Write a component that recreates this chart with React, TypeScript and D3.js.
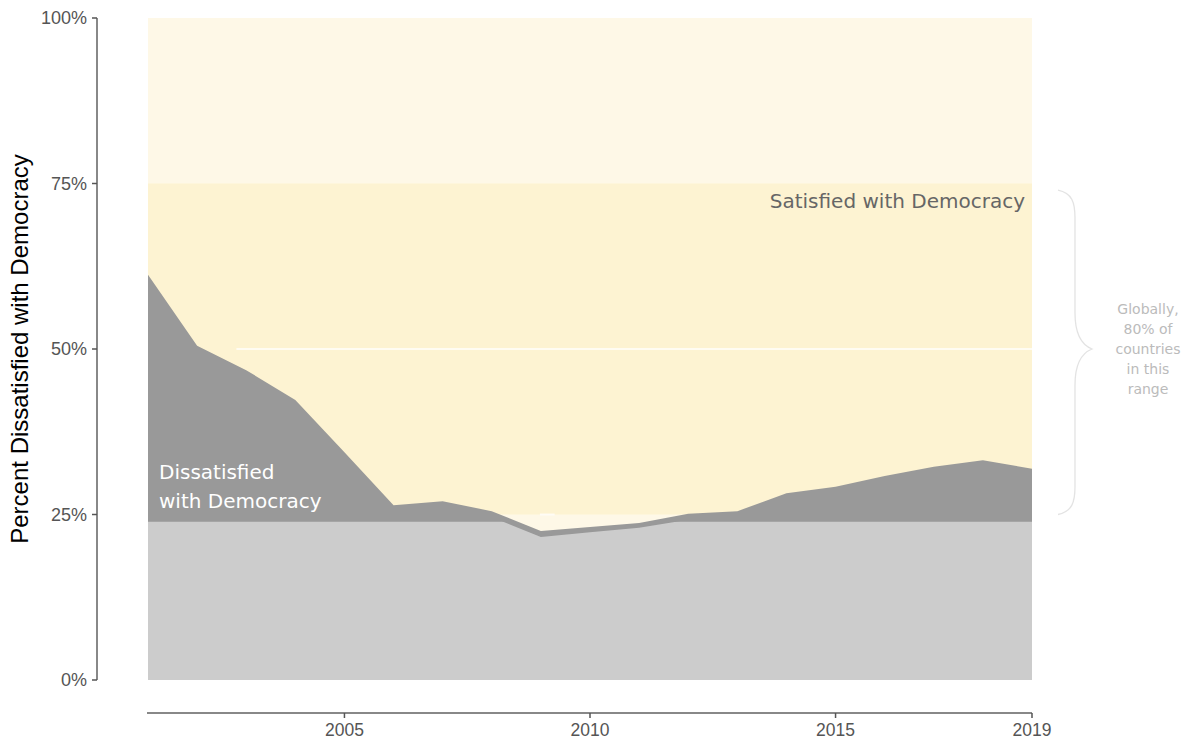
import React from 'react'
import * as d3 from 'd3'

// Dissatisfied share (fraction of countries' citizens)
const years = [2001, 2002, 2003, 2004, 2005, 2006, 2007, 2008, 2009, 2010, 2011, 2012, 2013, 2014, 2015, 2016, 2017, 2018, 2019]
const dissatisfied = [61.2, 50.5, 46.8, 42.3, 34.4, 26.4, 27.0, 25.5, 22.5, 23.1, 23.7, 25.1, 25.5, 28.2, 29.2, 30.8, 32.2, 33.2, 31.9]
const lowerBand = [60.3, 49.6, 45.9, 41.4, 33.5, 25.5, 26.1, 24.6, 21.6, 22.3, 23.0, 24.2, 24.6, 27.3, 28.3, 29.9, 31.3, 32.3, 31.0]
const lowerCap = 23.9

const yTicks = [0, 25, 50, 75, 100]
const xTicks = [2005, 2010, 2015, 2019]
const noteLines = ['Globally,', '80% of', 'countries', 'in this', 'range']

const WIDTH = 1184
const HEIGHT = 740

export default function App() {
  const x = d3.scaleLinear().domain([2001, 2019]).range([148, 1032])
  const y = d3.scaleLinear().domain([0, 100]).range([680, 18])

  const rows = years.map((yr, i) => ({ yr, v: dissatisfied[i], lo: lowerBand[i] }))

  const darkArea = d3
    .area<{ yr: number; v: number; lo: number }>()
    .x((d) => x(d.yr))
    .y0(y(0))
    .y1((d) => y(d.v))(rows) as string

  const lightArea = d3
    .area<{ yr: number; v: number; lo: number }>()
    .x((d) => x(d.yr))
    .y0(y(0))
    .y1((d) => y(d.lo))(rows) as string

  // curly brace spanning 25%..75%
  const bx = 1058
  const top = y(74)
  const bot = y(25)
  const mid = y(50)
  const brace = [
    `M${bx},${top}`,
    `C${bx + 14},${top + 3} ${bx + 17},${top + 12} ${bx + 17},${top + 28}`,
    `L${bx + 17},${mid - 36}`,
    `C${bx + 17},${mid - 14} ${bx + 24},${mid - 4} ${bx + 34},${mid}`,
    `C${bx + 24},${mid + 4} ${bx + 17},${mid + 14} ${bx + 17},${mid + 36}`,
    `L${bx + 17},${bot - 28}`,
    `C${bx + 17},${bot - 12} ${bx + 14},${bot - 3} ${bx},${bot}`,
  ].join(' ')

  const axisFont = '"Liberation Sans", Arial, sans-serif'
  const noteFont = '"DejaVu Sans", sans-serif'

  return (
    <svg width={WIDTH} height={HEIGHT} style={{ position: 'absolute', left: 0, top: 0 }}>
      <defs>
        <clipPath id="lowcap">
          <rect x={x(2001)} y={y(lowerCap)} width={x(2019) - x(2001)} height={y(0) - y(lowerCap)} />
        </clipPath>
      </defs>

      {/* background bands */}
      <rect x={x(2001)} y={y(100)} width={x(2019) - x(2001)} height={y(0) - y(100)} fill="#fef8e7" />
      <rect x={x(2001)} y={y(75)} width={x(2019) - x(2001)} height={y(25) - y(75)} fill="#fdf3d2" />

      {/* reference lines */}
      <line x1={x(2002.8)} x2={x(2019)} y1={y(50)} y2={y(50)} stroke="#ffffff" strokeOpacity={0.7} strokeWidth={2} />
      <line x1={x(2008.98)} x2={x(2009.28)} y1={y(25)} y2={y(25)} stroke="#ffffff" strokeOpacity={0.7} strokeWidth={2} />

      <path d={darkArea} fill="#999999" />
      <path d={lightArea} fill="#cccccc" clipPath="url(#lowcap)" />

      <text x={1025} y={208} textAnchor="end" fontFamily={noteFont} fontSize={20} fill="#666666">
        Satisfied with Democracy
      </text>
      <text x={159} y={479} fontFamily={noteFont} fontSize={20} fill="#ffffff">
        Dissatisfied
      </text>
      <text x={159} y={508} fontFamily={noteFont} fontSize={20} fill="#ffffff">
        with Democracy
      </text>

      <path d={brace} fill="none" stroke="#e3e3e3" strokeWidth={1.3} />
      {noteLines.map((t, i) => (
        <text key={t} x={1148} y={314 + i * 20} textAnchor="middle" fontFamily={noteFont} fontSize={14} fill="#bbbbbb">
          {t}
        </text>
      ))}

      {/* y axis */}
      <line x1={97} x2={97} y1={y(100)} y2={y(0)} stroke="#888888" strokeWidth={2} />
      {yTicks.map((t) => (
        <g key={t}>
          <line x1={92} x2={97} y1={y(t)} y2={y(t)} stroke="#555555" strokeWidth={1.5} />
          <text x={87} y={y(t) + 6} textAnchor="end" fontFamily={axisFont} fontSize={18} fill="#555555">
            {`${t}%`}
          </text>
        </g>
      ))}
      <text
        transform={`translate(28,${y(50)}) rotate(-90)`}
        textAnchor="middle"
        fontFamily={axisFont}
        fontSize={24}
        fill="#000000"
      >
        Percent Dissatisfied with Democracy
      </text>

      {/* x axis */}
      <line x1={147} x2={x(2019)} y1={713} y2={713} stroke="#888888" strokeWidth={2} />
      {xTicks.map((t) => (
        <g key={t}>
          <line x1={x(t)} x2={x(t)} y1={713} y2={718} stroke="#555555" strokeWidth={1.5} />
          <text x={x(t)} y={736} textAnchor="middle" fontFamily={axisFont} fontSize={17.5} fill="#555555">
            {t}
          </text>
        </g>
      ))}
    </svg>
  )
}
